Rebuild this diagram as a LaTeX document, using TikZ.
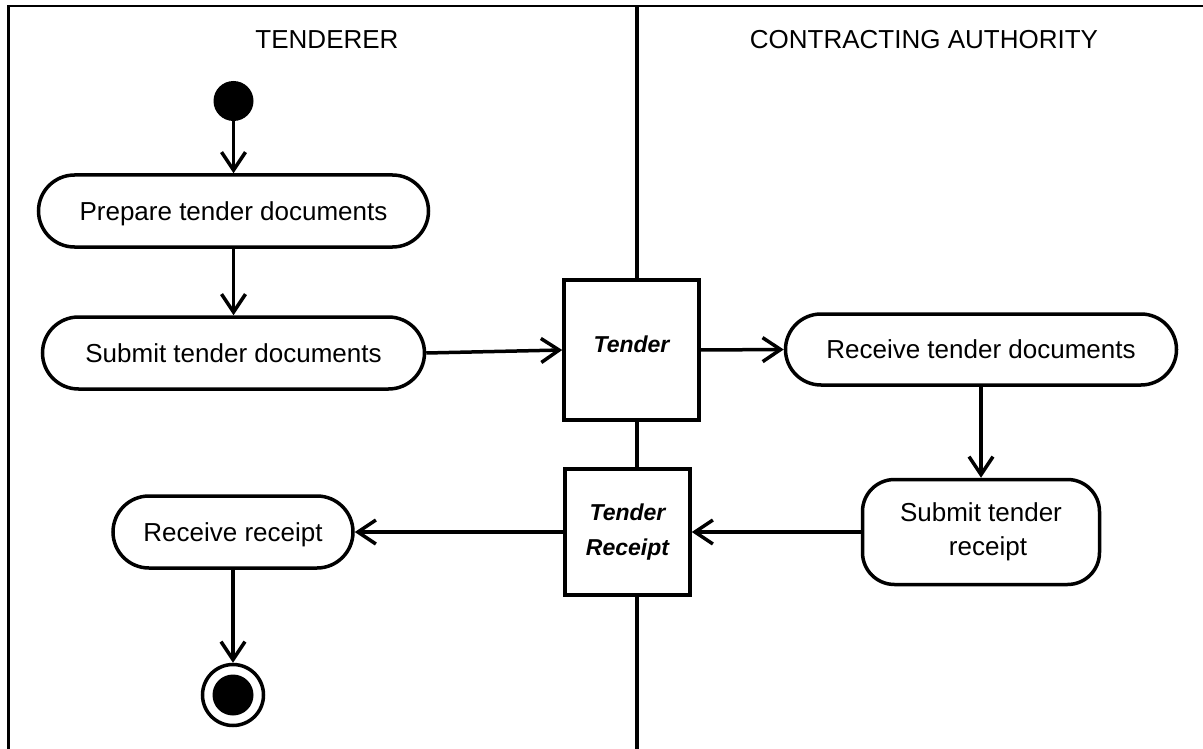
\documentclass[tikz,border=0pt]{standalone}
\usepackage{fontspec}
\setmainfont{Liberation Sans}
\usetikzlibrary{arrows.meta,shapes.misc}
\begin{document}
\begin{tikzpicture}[x=1pt,y=-1pt,
  lanetitle/.style={font=\fontsize{26}{30}\selectfont, inner sep=0pt},
  pill/.style={draw, line width=3.5pt, rounded rectangle, inner sep=0pt,
    font=\fontsize{26}{34}\selectfont, text height=18.6pt, text depth=0pt},
  roundbox/.style={draw, line width=3.5pt, rectangle, rounded corners=32pt, inner sep=0pt,
    align=center, font=\fontsize{26}{34}\selectfont},
  objbox/.style={draw, line width=3.5pt, fill=white, rectangle, inner sep=0pt,
    align=center, font=\fontsize{23}{35}\selectfont\bfseries\itshape},
  flow/.style={line width=3.5pt, -{Straight Barb[length=18pt,width=24pt]}},
  lane/.style={line width=2.8pt}
]
\useasboundingbox (0,0) rectangle (1203,749);
% frame and swimlane divider
\coordinate (ftr) at (1203,6);
\coordinate (ftl) at (8.7,6);
\coordinate (fbl) at (8.7,749);
\draw[lane, line join=miter] (ftr) -- (ftl) -- (fbl);
\coordinate (dtop) at (637,6);
\coordinate (dbot) at (637,749);
\draw[line width=4pt] (dtop) -- (dbot);
% lane titles
\node[lanetitle, anchor=base] (lt1) at (327,49) {TENDERER};
\node[lanetitle, anchor=base] (lt2) at (924,49) {CONTRACTING AUTHORITY};
% start / end
\node[circle, fill=black, minimum size=40pt, inner sep=0pt] (start) at (233.5,101) {};
\node[circle, draw, line width=3.5pt, minimum size=61pt, inner sep=0pt,
  path picture={\fill[black] (path picture bounding box.center) circle (20.5pt);}] (final) at (233,695) {};
% activities
\node[pill, minimum width=390pt, minimum height=72pt] (prep) at (233.5,211) {Prepare tender documents};
\node[pill, minimum width=382pt, minimum height=72pt] (sub) at (233.5,353) {Submit tender documents};
\node[pill, minimum width=391pt, minimum height=71pt] (recv) at (981,349.5) {Receive tender documents};
\node[roundbox, minimum width=237pt, minimum height=105pt] (subr) at (981,532) {Submit tender\\\hspace*{14pt}receipt};
\node[pill, minimum width=240pt, minimum height=72pt] (rr) at (233,532) {Receive receipt};
% objects
\node[objbox, minimum width=135pt, minimum height=140pt, text height=16.5pt, text depth=12.1pt] (tender) at (631.5,350) {Tender};
\node[objbox, minimum width=125pt, minimum height=126pt] (trec) at (627.5,532) {Tender\\Receipt};
% flows
\draw[flow] (start) -- (prep.north);
\draw[flow] (prep.south) -- (sub.north);
\draw[flow] (sub.east) -- (tender.west);
\draw[flow] (tender.east) -- (recv.west);
\draw[flow] (recv.south) -- (subr.north);
\draw[flow] (subr.west) -- (trec.east);
\draw[flow] (trec.west) -- (rr.east);
\draw[flow] (rr.south) -- (final.north);
\end{tikzpicture}
\end{document}
